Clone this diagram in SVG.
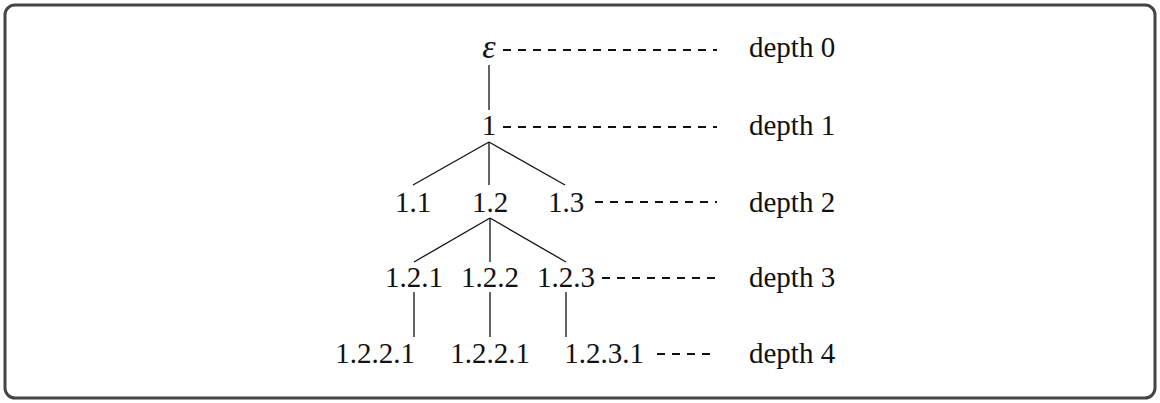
<svg xmlns="http://www.w3.org/2000/svg" width="1160" height="403" viewBox="0 0 1160 403">
<style>
text{font-family:'Liberation Serif','Times New Roman',Times,'DejaVu Serif',serif;font-size:29px;fill:#111}
.t{text-anchor:middle}
.eps{font-style:italic;font-size:34px}
.e{stroke:#111;stroke-width:1.3;fill:none}
.g{stroke:#111;stroke-width:1.8;stroke-dasharray:8 7;fill:none}
</style>
<rect x="5" y="5" width="1150" height="393" rx="10" fill="#fff" stroke="#444" stroke-width="3"/>
<g id="connectors">
<line class="e" x1="489" y1="65" x2="489" y2="110"/>
<line class="e" x1="489" y1="142" x2="413" y2="185"/>
<line class="e" x1="489" y1="142" x2="489" y2="185"/>
<line class="e" x1="489" y1="142" x2="565" y2="185"/>
<line class="e" x1="490" y1="218" x2="414" y2="262"/>
<line class="e" x1="490" y1="218" x2="490" y2="262"/>
<line class="e" x1="490" y1="218" x2="566" y2="262"/>
<line class="e" x1="414" y1="292" x2="414" y2="337"/>
<line class="e" x1="490" y1="292" x2="490" y2="337"/>
<line class="e" x1="566" y1="292" x2="566" y2="337"/>
<line class="g" x1="503" y1="50" x2="717" y2="50"/>
<line class="g" x1="503" y1="127" x2="717" y2="127"/>
<line class="g" x1="595" y1="202" x2="717" y2="202"/>
<line class="g" x1="602" y1="278" x2="717" y2="278"/>
<line class="g" x1="657" y1="354" x2="712" y2="354"/>
</g>
<g id="n-eps"><text class="t eps" x="489" y="58">ε</text></g>
<g id="n-1"><text class="t" x="489" y="135">1</text></g>
<g id="n-1-1"><text class="t" x="413" y="212">1.1</text></g>
<g id="n-1-2"><text class="t" x="490" y="212">1.2</text></g>
<g id="n-1-3"><text class="t" x="566" y="212">1.3</text></g>
<g id="n-1-2-1"><text class="t" x="414" y="287">1.2.1</text></g>
<g id="n-1-2-2"><text class="t" x="490" y="287">1.2.2</text></g>
<g id="n-1-2-3"><text class="t" x="566" y="287">1.2.3</text></g>
<g id="n-1-2-2-1a"><text class="t" x="375" y="363">1.2.2.1</text></g>
<g id="n-1-2-2-1b"><text class="t" x="490" y="363">1.2.2.1</text></g>
<g id="n-1-2-3-1"><text class="t" x="604" y="363">1.2.3.1</text></g>
<g id="labels">
<text x="749" y="57">depth 0</text>
<text x="749" y="135">depth 1</text>
<text x="749" y="212">depth 2</text>
<text x="749" y="287">depth 3</text>
<text x="749" y="363">depth 4</text>
</g>
</svg>
